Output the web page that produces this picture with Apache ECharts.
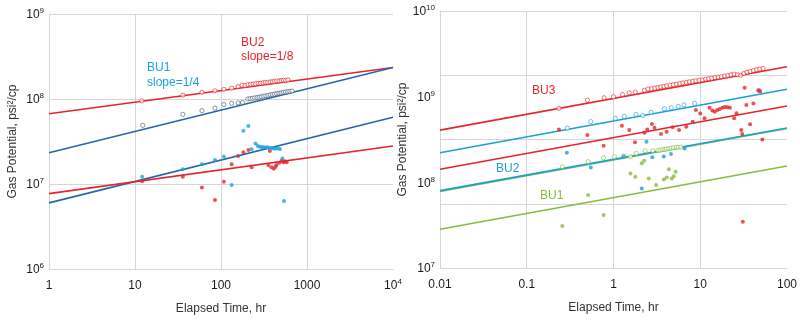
<!DOCTYPE html>
<html>
<head>
<meta charset="utf-8">
<script src="https://cdn.jsdelivr.net/npm/echarts@6/dist/echarts.min.js"></script>
<style>
html,body{margin:0;padding:0;background:#fff}
#chart{width:800px;height:327px}
</style>
</head>
<body>
<div id="chart"></div>
<script>
// ---- Left panel: elapsed time (hr) vs gas potential (psi^2/cp) ----
const leftBU2Open = [[12,9.5e7],[36,1.11e8],[60,1.2e8],[85,1.25e8],[108,1.3e8],[133,1.34e8],[158,1.4e8],[176,1.45e8],[190,1.44e8],[205,1.47e8],[220,1.49e8],[236,1.5e8],[252,1.51e8],[270,1.53e8],[288,1.53e8],[308,1.55e8],[328,1.57e8],[350,1.57e8],[372,1.59e8],[396,1.6e8],[420,1.61e8],[446,1.63e8],[474,1.63e8],[502,1.65e8],[532,1.66e8],[564,1.66e8],[600,1.68e8]];
const leftBU1Open = [[12.3,4.9e7],[36,6.6e7],[60,7.3e7],[85,7.8e7],[108,8.6e7],[133,8.9e7],[158,9.0e7],[178,9.1e7],[205,1.0e8],[218,1.01e8],[232,1.02e8],[246,1.03e8],[262,1.04e8],[278,1.05e8],[295,1.07e8],[313,1.08e8],[332,1.09e8],[352,1.1e8],[373,1.12e8],[396,1.13e8],[420,1.14e8],[445,1.16e8],[472,1.17e8],[500,1.18e8],[530,1.2e8],[562,1.21e8],[596,1.22e8],[632,1.23e8],[670,1.24e8]];
const leftBU2Closed = [[12.1,1.08e7],[36,1.22e7],[60,9.1e6],[85,6.5e6],[108,1.06e7],[133,1.71e7],[158,2.13e7],[182,2.36e7],[208,2.51e7],[227,1.57e7],[355,1.67e7],[370,2.44e7],[386,1.57e7],[412,1.51e7],[430,1.6e7],[443,1.67e7],[475,1.78e7],[508,1.88e7],[530,1.8e7],[555,1.85e7],[580,1.8e7]];
const leftBU1Closed = [[12.1,1.22e7],[36,1.49e7],[60,1.71e7],[85,1.91e7],[108,2.1e7],[133,9.7e6],[182,4.24e7],[208,4.8e7],[227,2.57e7],[252,3.0e7],[268,2.8e7],[282,2.75e7],[297,2.72e7],[312,2.7e7],[328,2.68e7],[346,2.7e7],[365,2.66e7],[386,2.65e7],[408,2.62e7],[432,2.6e7],[458,2.62e7],[486,2.58e7],[518,2.0e7],[540,6.3e6]];
const leftLineBU2Upper = [[1,6.7e7],[1e4,2.35e8]];
const leftLineBU1Upper = [[1,2.33e7],[1e4,2.35e8]];
const leftLineBU1Lower = [[1,6.0e6],[1e4,6.1e7]];
const leftLineBU2Lower = [[1,7.7e6],[1e4,2.8e7]];

// ---- Right panel ----
const rightBU3Open = [[0.235,7.3e8],[0.5,9.1e8],[0.78,9.7e8],[1.0,9.97e8],[1.27,1.06e9],[1.52,1.11e9],[1.78,1.13e9],[2.27,1.19e9],[2.5,1.23e9],[2.75,1.24e9],[3.0,1.26e9],[3.25,1.28e9],[3.5,1.3e9],[3.8,1.32e9],[4.1,1.34e9],[4.5,1.36e9],[4.9,1.38e9],[5.3,1.4e9],[5.8,1.42e9],[6.3,1.45e9],[6.9,1.47e9],[7.5,1.49e9],[8.2,1.51e9],[8.9,1.53e9],[9.7,1.55e9],[10.6,1.57e9],[11.5,1.6e9],[12.5,1.62e9],[13.6,1.64e9],[14.8,1.67e9],[16.1,1.69e9],[17.5,1.71e9],[19.1,1.74e9],[20.8,1.77e9],[22.6,1.8e9],[24.6,1.83e9],[26.8,1.8e9],[29.2,1.78e9],[31.8,1.86e9],[34.6,1.93e9],[37.7,1.97e9],[41,2.02e9],[44.7,2.07e9],[48.6,2.1e9],[53,2.14e9]];
const rightBU2Open = [[0.294,4.3e8],[0.547,5.12e8],[1.05,5.58e8],[1.33,5.89e8],[1.82,6.21e8],[2.17,6.03e8],[2.71,6.56e8],[3.87,7.23e8],[4.62,7.42e8],[5.57,7.7e8],[6.48,8.02e8],[8.61,8.35e8],[48,1.17e9]];
const rightBU3Closed = [[0.235,4.15e8],[0.5,3.56e8],[0.77,2.67e8],[1.25,4.57e8],[1.52,4.07e8],[1.77,2.93e8],[2.27,3.8e8],[2.45,4.15e8],[2.77,4.79e8],[2.97,4.33e8],[3.53,3.66e8],[4.1,3.9e8],[4.79,4.41e8],[5.7,4.07e8],[6.9,4.46e8],[8.2,5.1e8],[8.9,6.98e8],[10.0,6.38e8],[11.2,5.58e8],[12.8,7.42e8],[13.8,6.9e8],[14.7,6.67e8],[15.7,7.0e8],[16.8,7.16e8],[18,7.4e8],[19.2,7.6e8],[20.5,7.5e8],[22,7.4e8],[24.6,5.6e8],[26.2,6.4e8],[29.7,4.07e8],[30.5,3.66e8],[31,3.47e7],[32.5,1.27e9],[34,7.98e8],[37.5,4.75e8],[41,8.35e8],[46.6,1.19e9],[49,1.16e9],[52,3.16e8]];
const rightBU2Closed = [[0.29,2.21e8],[0.547,1.49e8],[1.31,2.0e8],[2.12,8.5e7],[2.4,2.98e8],[2.8,1.96e8],[3.8,2.0e8],[4.6,2.14e8],[6.6,2.49e8]];
const rightBU1Open = [[0.257,1.52e8],[0.51,1.74e8],[0.77,1.94e8],[1.02,1.99e8],[1.31,2.04e8],[1.57,1.99e8],[1.83,2.18e8],[2.32,2.34e8],[2.84,2.34e8],[3.25,2.36e8],[3.45,2.38e8],[3.7,2.41e8],[3.9,2.43e8],[4.1,2.45e8],[4.35,2.47e8],[4.6,2.5e8],[4.9,2.53e8],[5.3,2.56e8],[5.6,2.57e8],[6.0,2.58e8]];
const rightBU1Closed = [[0.257,3.1e7],[0.51,7.1e7],[0.77,4.15e7],[1.57,1.27e8],[1.78,1.16e8],[2.12,1.67e8],[2.26,1.79e8],[2.55,1.11e8],[3.1,9.3e7],[3.8,1.08e8],[4.1,1.14e8],[4.35,1.42e8],[4.7,1.11e8],[4.95,1.18e8],[5.2,1.33e8]];
const rightLineBU3Upper = [[0.01,4.07e8],[100,2.23e9]];
const rightLineBU2Upper = [[0.01,2.21e8],[100,1.22e9]];
const rightLineBU3Lower = [[0.01,1.42e8],[100,7.77e8]];
const rightLineBU1Upper = [[0.01,7.8e7],[100,4.25e8]];
const rightLineBU2Lower = [[0.01,8.0e7],[100,4.3e8]];
const rightLineBU1Lower = [[0.01,2.83e7],[100,1.55e8]];

// ---- Tick labels, keyed by decade exponent ----
const leftXTicks = {0:'{b|1}',1:'{b|10}',2:'{b|100}',3:'{b|1000}',4:'{b|10}{s|4}'};
const leftYTicks = {6:'{b|10}{s|6}',7:'{b|10}{s|7}',8:'{b|10}{s|8}',9:'{b|10}{s|9}'};
const rightXTicks = {'-2':'{b|0.01}','-1':'{b|0.1}',0:'{b|1}',1:'{b|10}',2:'{b|100}'};
const rightYTicks = {7:'{b|10}{s|7}',8:'{b|10}{s|8}',9:'{b|10}{s|9}',10:'{b|10}{s|10}'};

const RED = '#e5242b', DBLUE = '#2566b0', CYAN = '#1ba4d9', SLATE = '#4a5670',
      BLUE = '#1c9fd8', GREEN = '#86bc3e', GRID = '#d6d6d6';
const FONT = 'Liberation Sans';

const rich = {
  b: {fontSize: 12, lineHeight: 14, verticalAlign: 'bottom', fontFamily: FONT, color: '#1a1a1a'},
  s: {fontSize: 8, lineHeight: 8, verticalAlign: 'top', fontFamily: FONT, color: '#1a1a1a'}
};
const exp = v => Math.round(Math.log10(v));

function logAxis(gridIndex, min, max, ticks, extra) {
  return Object.assign({
    type: 'log', logBase: 10, gridIndex, min, max,
    axisLine: {show: true, lineStyle: {color: GRID}},
    axisTick: {show: false},
    splitLine: {show: true, lineStyle: {color: GRID, width: 1}},
    nameTextStyle: {color: '#333', fontSize: 12, fontFamily: FONT}
  }, extra, {
    axisLabel: Object.assign({formatter: v => ticks[exp(v)] || '', rich}, extra.axisLabel)
  });
}

function line(data, color, xi, yi) {
  return {type: 'line', data, xAxisIndex: xi, yAxisIndex: yi, showSymbol: false, symbol: 'none',
    lineStyle: {color, width: 1.6}, silent: true, z: 3};
}
function dots(data, color, xi, yi) {
  return {type: 'scatter', data, xAxisIndex: xi, yAxisIndex: yi, symbol: 'circle', symbolSize: 4,
    itemStyle: {color}, z: 4};
}
// hollow markers: white fill with a thin coloured outline
function rings(data, color, xi, yi) {
  return {type: 'scatter', data, xAxisIndex: xi, yAxisIndex: yi, symbol: 'circle', symbolSize: 4.2,
    itemStyle: {color: 'rgba(255,255,255,0.9)', borderColor: color, borderWidth: 0.8}, z: 4};
}

const chart = echarts.init(document.getElementById('chart'), null, {renderer: 'canvas'});
chart.setOption({
  animation: false,
  backgroundColor: '#fff',
  grid: [
    {left: 49, top: 14, width: 344, height: 255},
    {left: 440, top: 11, width: 348, height: 257}
  ],
  xAxis: [
    logAxis(0, 1, 1e4, leftXTicks, {
      name: 'Elapsed Time, hr', nameLocation: 'middle', nameGap: 34,
      splitLine: {show: true, showMaxLine: false, lineStyle: {color: GRID}},
      axisLabel: {margin: 9}
    }),
    logAxis(1, 0.01, 100, rightXTicks, {
      name: 'Elapsed Time, hr', nameLocation: 'middle', nameGap: 34,
      splitLine: {show: true, showMaxLine: false, lineStyle: {color: GRID}},
      axisLabel: {margin: 9}
    })
  ],
  yAxis: [
    logAxis(0, 1e6, 1e9, leftYTicks, {
      name: 'Gas Potential, psi²/cp', nameLocation: 'middle', nameGap: 30,
      axisLabel: {margin: 5}
    }),
    logAxis(1, 1e7, 1e10, rightYTicks, {
      name: 'Gas Potential, psi²/cp', nameLocation: 'middle', nameGap: 30,
      splitLine: {show: false},
      axisLabel: {margin: 5}
    }),
    // quarter divisions of the right panel's background grid
    {type: 'value', gridIndex: 1, min: 0, max: 4, interval: 1,
     axisLine: {show: false}, axisTick: {show: false}, axisLabel: {show: false},
     splitLine: {show: true, lineStyle: {color: GRID}}}
  ],
  series: [
    line(leftLineBU2Upper, RED, 0, 0),
    line(leftLineBU1Upper, DBLUE, 0, 0),
    line(leftLineBU1Lower, DBLUE, 0, 0),
    line(leftLineBU2Lower, RED, 0, 0),
    rings(leftBU2Open, RED, 0, 0),
    rings(leftBU1Open, SLATE, 0, 0),
    dots(leftBU2Closed, RED, 0, 0),
    dots(leftBU1Closed, CYAN, 0, 0),

    line(rightLineBU3Upper, RED, 1, 1),
    line(rightLineBU2Upper, BLUE, 1, 1),
    line(rightLineBU3Lower, RED, 1, 1),
    line(rightLineBU1Upper, GREEN, 1, 1),
    line(rightLineBU2Lower, BLUE, 1, 1),
    line(rightLineBU1Lower, GREEN, 1, 1),
    rings(rightBU3Open, RED, 1, 1),
    rings(rightBU2Open, BLUE, 1, 1),
    rings(rightBU1Open, GREEN, 1, 1),
    dots(rightBU3Closed, RED, 1, 1),
    dots(rightBU2Closed, BLUE, 1, 1),
    dots(rightBU1Closed, GREEN, 1, 1)
  ],
  graphic: [
    {type: 'text', x: 147, y: 68, style: {text: 'BU1', fill: CYAN, font: '12px ' + FONT, verticalAlign: 'middle'}},
    {type: 'text', x: 147, y: 83, style: {text: 'slope=1/4', fill: CYAN, font: '12px ' + FONT, verticalAlign: 'middle'}},
    {type: 'text', x: 241, y: 43, style: {text: 'BU2', fill: RED, font: '12px ' + FONT, verticalAlign: 'middle'}},
    {type: 'text', x: 241, y: 57, style: {text: 'slope=1/8', fill: RED, font: '12px ' + FONT, verticalAlign: 'middle'}},
    {type: 'text', x: 532, y: 91, style: {text: 'BU3', fill: RED, font: '12px ' + FONT, verticalAlign: 'middle'}},
    {type: 'text', x: 496, y: 169, style: {text: 'BU2', fill: BLUE, font: '12px ' + FONT, verticalAlign: 'middle'}},
    {type: 'text', x: 540, y: 196, style: {text: 'BU1', fill: GREEN, font: '12px ' + FONT, verticalAlign: 'middle'}}
  ]
});
</script>
</body>
</html>
